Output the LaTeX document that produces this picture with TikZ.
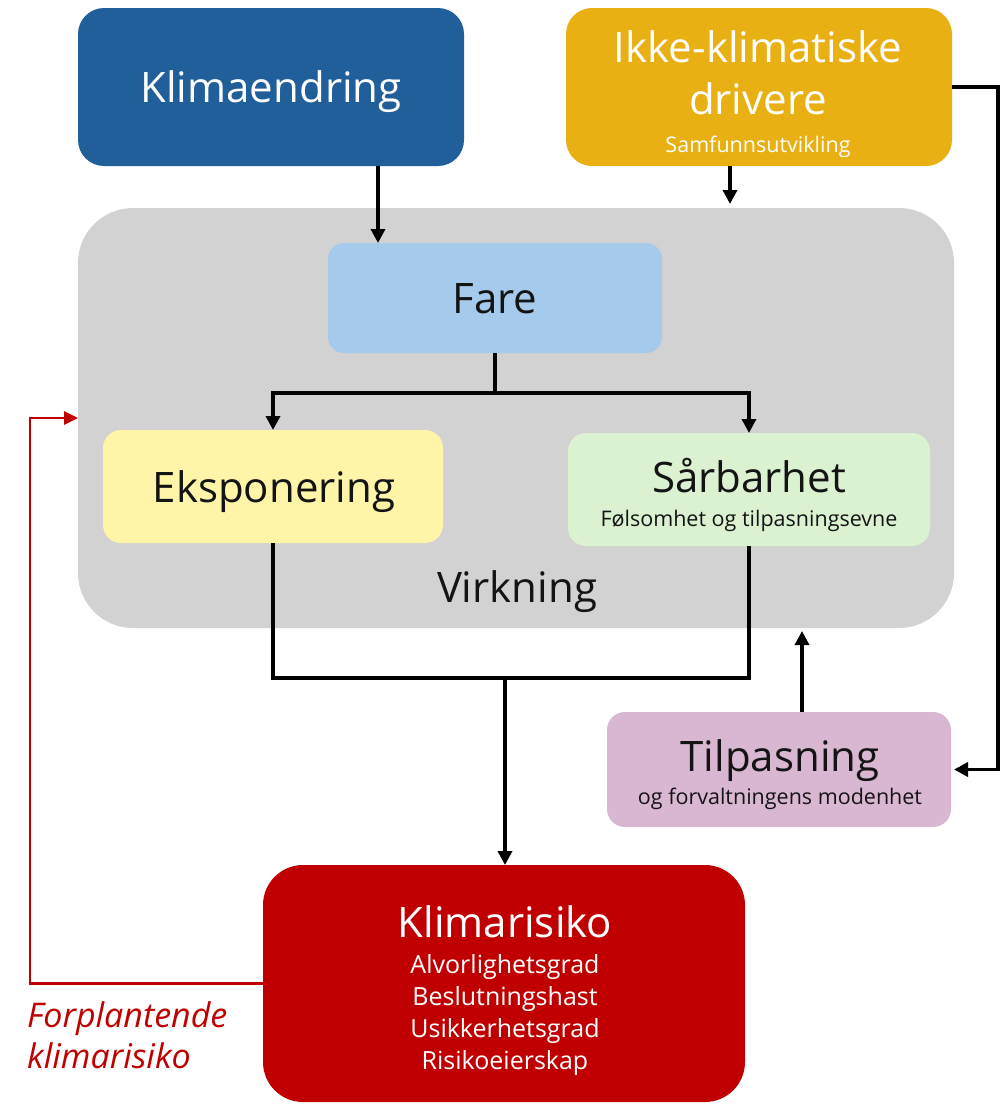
\documentclass[tikz,border=0pt]{standalone}
\usepackage{fontspec}
\setmainfont{Open Sans}
\usetikzlibrary{arrows.meta}
\definecolor{cblue}{RGB}{33,95,154}
\definecolor{cgold}{RGB}{232,176,18}
\definecolor{cgrey}{RGB}{210,210,210}
\definecolor{cfare}{RGB}{166,202,236}
\definecolor{ceksp}{RGB}{255,245,168}
\definecolor{csarb}{RGB}{218,242,208}
\definecolor{ctilp}{RGB}{218,183,208}
\definecolor{crisk}{RGB}{192,0,0}
\definecolor{ctext}{RGB}{20,20,20}
\begin{document}
\begin{tikzpicture}[x=1pt,y=-1pt,
  box/.style={draw=none,inner sep=0pt,outer sep=0pt,anchor=north west},
  big/.style={anchor=base,inner sep=0pt,font=\fontsize{42}{50}\selectfont},
  small/.style={anchor=base,inner sep=0pt,font=\fontsize{21.5}{26}\selectfont},
  sub/.style={anchor=base,inner sep=0pt,font=\fontsize{25}{30}\selectfont},
  redtext/.style={anchor=base west,inner sep=0pt,text=crisk,font=\fontsize{34}{40}\selectfont\itshape},
  line/.style={draw=black,line width=3.4pt},
  arr/.style={line,-{Triangle[length=14pt,width=14pt]}},
  redarr/.style={draw=crisk,line width=2.8pt,-{Triangle[length=14pt,width=13pt]}}]
\useasboundingbox (0,0) rectangle (1008,1104);

% boxes
\node[box,fill=cblue,minimum width=386pt,minimum height=158pt,rounded corners=26pt] (klima) at (78,8) {};
\node[box,fill=cgold,minimum width=386pt,minimum height=158pt,rounded corners=26pt] (ikke) at (566,8) {};
\node[box,fill=cgrey,minimum width=876pt,minimum height=420pt,rounded corners=55pt] (grey) at (78,208) {};
\node[box,fill=cfare,minimum width=334pt,minimum height=110pt,rounded corners=16pt] (fare) at (328,243) {};
\node[box,fill=ceksp,minimum width=340pt,minimum height=113pt,rounded corners=18pt] (eksp) at (103,430) {};
\node[box,fill=csarb,minimum width=362pt,minimum height=113pt,rounded corners=18pt] (sarb) at (568,433) {};
\node[box,fill=ctilp,minimum width=344pt,minimum height=115pt,rounded corners=18pt] (tilp) at (607,712) {};
\node[box,fill=crisk,minimum width=482pt,minimum height=237pt,rounded corners=40pt] (risk) at (263,865) {};

% texts
\node[big,white] (tklima) at (271,102) {Klimaendring};
\node[big,white] (tikke1) at (758,62) {Ikke-klimatiske};
\node[big,white] (tikke2) at (758,114) {drivere};
\node[small,white] (tikke3) at (758,152) {Samfunnsutvikling};
\node[big,ctext] (tfare) at (495,313) {Fare};
\node[big,ctext] (teksp) at (274,502) {Eksponering};
\node[big,ctext] (tsarb) at (749,492) {Sårbarhet};
\node[small,ctext] (tsarb2) at (749,526) {Følsomhet og tilpasningsevne};
\node[big,ctext] (tvirk) at (517,602) {Virkning};
\node[big,ctext] (ttilp) at (780,771) {Tilpasning};
\node[small,ctext] (ttilp2) at (780,804) {og forvaltningens modenhet};
\node[big,white] (trisk) at (505,937) {Klimarisiko};
\node[sub,white] (trisk1) at (505,973) {Alvorlighetsgrad};
\node[sub,white] (trisk2) at (505,1005) {Beslutningshast};
\node[sub,white] (trisk3) at (505,1037) {Usikkerhetsgrad};
\node[sub,white] (trisk4) at (505,1069) {Risikoeierskap};
\node[redtext] (tfor1) at (27,1027) {Forplantende};
\node[redtext] (tfor2) at (27,1068) {klimarisiko};

% connectors
\coordinate (k1) at (378,0);
\coordinate (i1) at (730,0);
\coordinate (t1) at (802,0);
\coordinate (j) at (505,678);
\coordinate (rl) at (30,700);
\draw[arr] (klima.south -| k1) -- (fare.north -| k1);
\draw[arr,shorten >=4pt] (ikke.south -| i1) -- (grey.north -| i1);
\draw[arr,shorten >=3pt] (ikke.east) -- ++(46,0) |- (tilp.east);
\draw[line] (fare.south) -- ++(0,40) coordinate (fs);
\draw[arr] (fs) -| (eksp.north);
\draw[arr] (fs) -| (sarb.north);
\draw[line] (eksp.south) -- ++(0,135) -| (sarb.south);
\draw[arr] (j) -- (risk.north -| j);
\draw[arr,shorten >=3pt] (tilp.north -| t1) -- (grey.south -| t1);
\draw[redarr] (risk.west) -| (rl) |- (grey.west);
\end{tikzpicture}
\end{document}
